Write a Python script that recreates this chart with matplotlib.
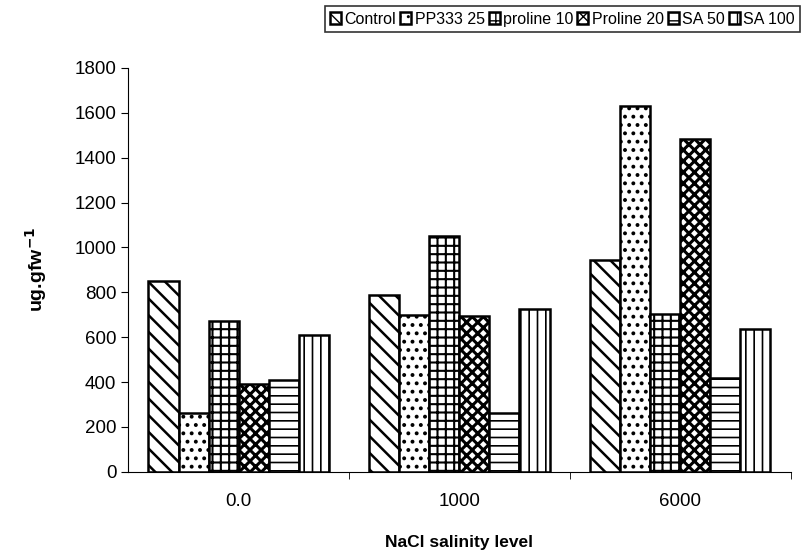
import numpy as np
import matplotlib
matplotlib.use("Agg")
import matplotlib.pyplot as plt

plt.rcParams['font.family'] = ['Liberation Sans', 'DejaVu Sans']

# data
levels = ['0.0', '1000', '6000']
series = ['Control', 'PP333 25', 'proline 10', 'Proline 20', 'SA 50', 'SA 100']
control = [850, 790, 945]
pp333_25 = [260, 700, 1630]
proline_10 = [670, 1050, 705]
proline_20 = [390, 695, 1485]
sa_50 = [410, 260, 420]
sa_100 = [610, 725, 635]
values = [control, pp333_25, proline_10, proline_20, sa_50, sa_100]

hatches = ['\\\\', '..', '++', 'xxx', '--', '||']
hatch_lw = [1.8, 1.6, 1.5, 2.2, 1.2, 1.2]

fig = plt.figure(figsize=(8.06, 5.57), dpi=100)
ax = fig.add_axes([0.159, 0.153, 0.822, 0.725])

x = np.arange(len(levels))
w = 0.136
for i, (name, vals) in enumerate(zip(series, values)):
    pos = x + (i - 2.5) * w
    with plt.rc_context({'hatch.linewidth': hatch_lw[i]}):
        ax.bar(pos, vals, width=w, facecolor='white', edgecolor='black',
               linewidth=1.8, hatch=hatches[i], label=name)

ax.set_xlim(-0.5, 2.5)
ax.set_ylim(0, 1800)
ax.set_yticks(np.arange(0, 1801, 200))
ax.set_xticks(x)
ax.set_xticklabels(levels, fontsize=13.5)
ax.set_xticks([0.5, 1.5, 2.5], minor=True)
ax.tick_params(axis='x', which='major', length=0, pad=15)
ax.tick_params(axis='x', which='minor', length=5, direction='out')
ax.tick_params(axis='y', labelsize=13.5, direction='out', length=5)
for s in ['top', 'right']:
    ax.spines[s].set_visible(False)
ax.spines['left'].set_linewidth(0.8)
ax.spines['bottom'].set_linewidth(0.8)

ax.set_xlabel('NaCl salinity level', fontsize=12.5, fontweight='bold', labelpad=18)
ax.set_ylabel('ug.gfw$^{\\mathbf{-1}}$', fontsize=14, fontweight='bold', labelpad=18)

leg = fig.legend(loc='upper right', bbox_to_anchor=(0.997, 0.995), ncol=6,
                 fontsize=11.5, frameon=True, fancybox=False, edgecolor='black',
                 handlelength=0.7, handleheight=0.7, handletextpad=0.2,
                 columnspacing=0.25, borderpad=0.35, borderaxespad=0.2)
leg.get_frame().set_linewidth(1.2)

fig.savefig('out.png', dpi=100)
